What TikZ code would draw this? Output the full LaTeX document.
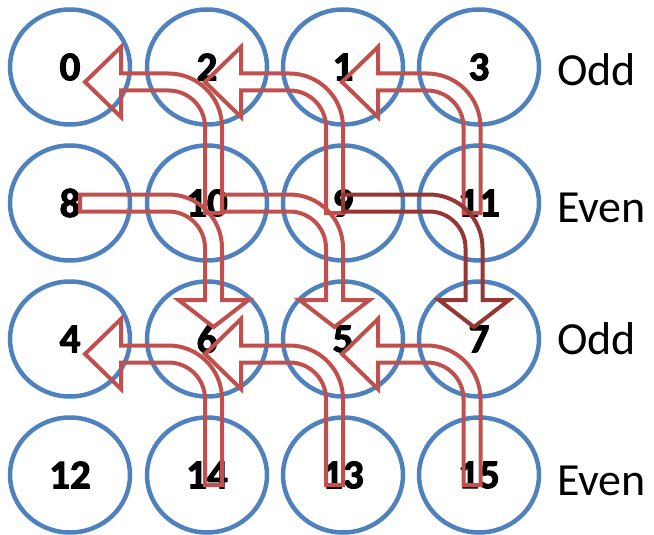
\documentclass[tikz,border=0pt]{standalone}
\usepackage{fontspec}
\setmainfont{Carlito}
\newfontfamily\cellfont[FakeBold=2.5]{Carlito Bold}
\usepackage{tikz}
\usetikzlibrary{
  calc,
  shapes.geometric
}
\definecolor{ringblue}{HTML}{4F81BD}
\definecolor{arrowred}{HTML}{C0504D}
\definecolor{arrowdark}{HTML}{943634}
\tikzset{
  cellnode/.style={
    ellipse, draw=ringblue, line width=4.5pt, fill=none,
    minimum width=120pt, minimum height=115pt, inner sep=0pt,
    font=\fontsize{41pt}{49pt}\selectfont\cellfont
  },
  rowlab/.style={
    anchor=base west, inner sep=0pt,
    font=\fontsize{46pt}{55pt}\selectfont
  },
  bentarrow/.style={
    draw=#1, line width=4pt, line join=miter
  },
}
%% hollow bent arrow: up from #2, then left into #3
%% #4 shaft shift from #2, #5 tip shift from #3
\newcommand\bendupleft[5][arrowred]{%
  \coordinate (tl) at ($(#2)+(#4,10)$);
  \coordinate (tp) at ($(#3)+(#5,15)$);
  \coordinate (cr) at (tl |- tp);
  \draw[bentarrow=#1]
    ($(tl)+(-8.5,0)$) -- ($(cr)+(-8.5,45)$)
    .. controls +(0,-20.16) and +(20.16,0) .. ($(cr)+(-45,8.5)$)
    -- ($(tp)+(36,8.5)$) -- ($(tp)+(36,35)$) -- (tp)
    -- ($(tp)+(36,-35)$) -- ($(tp)+(36,-8.5)$) -- ($(cr)+(-45,-8.5)$)
    .. controls +(29.55,0) and +(0,-29.55) .. ($(cr)+(8.5,45)$)
    -- ($(tl)+(8.5,0)$) -- cycle;
}
%% hollow bent arrow: right from #2, then down into #3
%% #4 tail shift from #2, #5 shaft shift from #3
\newcommand\bendrightdown[5][arrowred]{%
  \coordinate (tl) at ($(#2)+(#4,0)$);
  \coordinate (tp) at ($(#3)+(#5,-12)$);
  \coordinate (cr) at (tp |- tl);
  \draw[bentarrow=#1]
    ($(tl)+(0,-8.5)$) -- ($(cr)+(-45,-8.5)$)
    .. controls +(29.55,0) and +(0,-29.55) .. ($(cr)+(8.5,45)$)
    -- ($(tp)+(8.5,-27)$) -- ($(tp)+(35,-27)$) -- (tp)
    -- ($(tp)+(-35,-27)$) -- ($(tp)+(-8.5,-27)$) -- ($(cr)+(-8.5,45)$)
    .. controls +(0,-20.16) and +(20.16,0) .. ($(cr)+(-45,8.5)$)
    -- ($(tl)+(0,8.5)$) -- cycle;
}

\begin{document}
\begin{tikzpicture}[x=1pt,y=-1pt]
  \useasboundingbox (0,0) rectangle (654,535);

  %% Grid of cells
  \foreach \lab/\x/\y in {0/70/67, 2/207/67, 1/343/67, 3/479/67,
                          8/70/203, 10/207/203, 9/343/203, 11/479/203,
                          4/70/339, 6/207/339, 5/343/339, 7/479/339,
                          12/70/475, 14/207/475, 13/343/475, 15/479/475} {
    \node[cellnode] (n\lab) at (\x,\y) {\lab};
  }

  %% Row labels
  \node[rowlab] (row1) at (557,86) {Odd};
  \node[rowlab] (row2) at (557,222) {Even};
  \node[rowlab] (row3) at (557,354) {Odd};
  \node[rowlab] (row4) at (557,495) {Even};

  %% Up and left
  \bendupleft{n10}{n0}{6.5}{15}
  \bendupleft{n9}{n2}{-8.5}{-2}
  \bendupleft{n11}{n1}{-7}{-1}
  \bendupleft{n14}{n4}{6.5}{15}
  \bendupleft{n13}{n6}{-8.5}{-2}
  \bendupleft{n15}{n5}{-7}{-1}

  %% Right and down
  \bendrightdown{n8}{n6}{10}{6.5}
  \bendrightdown{n10}{n5}{15}{-8.5}
  \bendrightdown[arrowdark]{n9}{n7}{0}{-5}
\end{tikzpicture}
\end{document}
